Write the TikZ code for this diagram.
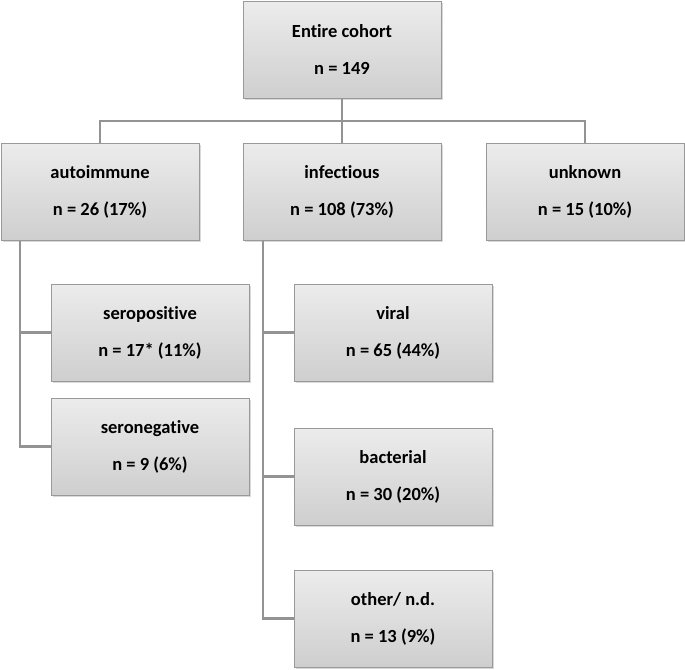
\documentclass[tikz,border=0pt]{standalone}
\usepackage{fontspec}
\setmainfont[Ligatures=NoCommon]{Carlito}
\usetikzlibrary{shadows}
\begin{document}
\begin{tikzpicture}[x=1pt,y=-1pt,
 box/.style={draw=gray!80,line width=1pt,top color=gray!15,bottom color=gray!38,minimum width=198pt,minimum height=97pt,align=center,font=\bfseries\fontsize{18.5}{37}\selectfont,drop shadow={shadow xshift=1.5pt,shadow yshift=-1.5pt,opacity=0.3}},
 ln/.style={draw=gray!85,line width=2.4pt}]
\useasboundingbox (0,0) rectangle (685,669);
\coordinate (h) at (342,121);
\coordinate (al) at (20,0);
\coordinate (il) at (263,0);
\node[box] (top) at (342,50) {Entire cohort\\n = 149};
\node[box] (auto) at (100,191.5) {autoimmune\\n = 26 (17\%)};
\node[box] (inf) at (342,191.5) {infectious\\n = 108 (73\%)};
\node[box] (unk) at (585,191.5) {unknown\\n = 15 (10\%)};
\draw[ln] (top.south) -- (h);
\draw[ln] (h) -| (auto.north);
\draw[ln] (h) -- (inf.north);
\draw[ln] (h) -| (unk.north);
\coordinate (sps) at (20,332.5);
\coordinate (sns) at (20,446.5);
\coordinate (vs) at (263,332.5);
\coordinate (bs) at (263,476.5);
\coordinate (os) at (263,618.5);
\draw[ln] (auto.south -| al) -- (sns) -- ++(40,0);
\draw[ln] (sps) -- ++(40,0);
\draw[ln] (inf.south -| il) -- (os) -- ++(40,0);
\draw[ln] (vs) -- ++(40,0);
\draw[ln] (bs) -- ++(40,0);
\node[box] (sp) at (150,332.5) {seropositive\\n = 17* (11\%)};
\node[box] (sn) at (150,446.5) {seronegative\\n = 9 (6\%)};
\node[box] (vir) at (393,332.5) {viral\\n = 65 (44\%)};
\node[box] (bac) at (393,476.5) {bacterial\\n = 30 (20\%)};
\node[box] (oth) at (393,618.5) {other/ n.d.\\n = 13 (9\%)};
\end{tikzpicture}
\end{document}
